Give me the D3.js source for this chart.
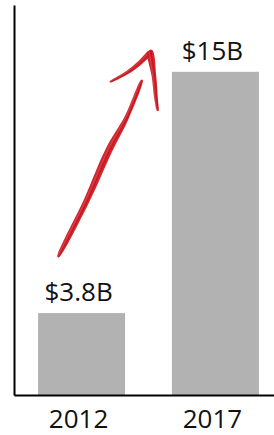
<!DOCTYPE html>
<html>
<head>
<meta charset="utf-8">
<script src="https://cdn.jsdelivr.net/npm/d3@7"></script>
<style>
  html, body { margin: 0; padding: 0; background: #fff; }
  svg { display: block; }
  text { font-family: "Open Sans", "Liberation Sans", sans-serif; fill: #111; }
</style>
</head>
<body>
<svg id="chart" width="274" height="435"></svg>
<script>
// ---- data ----
const categories = ["2012", "2017"];
const values = [3.8, 15];
const valueLabels = ["$3.8B", "$15B"];
// hand-drawn arrow annotation, in data units:
// f = position between the two category centers (0 = 2012, 1 = 2017), v = value units
const arrowStem = [
  { f: -0.176, v: 6.40, w: 1.5 },
  { f: 0.040, v: 9.05, w: 6 },
  { f: 0.205, v: 11.37, w: 7 },
  { f: 0.339, v: 12.90, w: 4.5 },
  { f: 0.451, v: 14.62, w: 1.5 }
];
const arrowLeftWing = [
  { f: 0.212, v: 14.53, w: 1.2 },
  { f: 0.337, v: 14.95, w: 3.5 },
  { f: 0.434, v: 15.41, w: 4.5 },
  { f: 0.508, v: 15.87, w: 5 },
  { f: 0.526, v: 15.99, w: 3 }
];
const arrowRightWing = [
  { f: 0.512, v: 15.95, w: 5 },
  { f: 0.541, v: 14.79, w: 4.5 },
  { f: 0.557, v: 13.73, w: 3.5 },
  { f: 0.569, v: 13.19, w: 1.2 }
];

// ---- scales ----
const svg = d3.select("#chart");
const x = d3.scaleBand().domain(categories).range([14, 283]).paddingInner(0.35).paddingOuter(0.18);
const y = d3.scaleLinear().domain([0, 18.1]).range([395, 5]);
const c0 = x(categories[0]) + x.bandwidth() / 2;
const c1 = x(categories[1]) + x.bandwidth() / 2;
const fx = d3.scaleLinear().domain([0, 1]).range([c0, c1]);

// ---- bars ----
svg.append("g").selectAll("rect").data(values).join("rect")
  .attr("x", (d, i) => x(categories[i]))
  .attr("y", d => y(d))
  .attr("width", x.bandwidth())
  .attr("height", d => y(0) - y(d))
  .attr("fill", "#b2b2b2");

// ---- value labels ----
svg.append("g").selectAll("text").data(values).join("text")
  .attr("x", (d, i) => x(categories[i]) + x.bandwidth() / 2 - 3)
  .attr("y", d => y(d) - 12)
  .attr("text-anchor", "middle")
  .style("font-size", "26px")
  .text((d, i) => valueLabels[i]);

// ---- axes ----
const xAxis = svg.append("g").attr("transform", `translate(0,${y(0)})`)
  .call(d3.axisBottom(x).tickSize(0).tickPadding(15));
xAxis.select(".domain").attr("stroke", "#000").attr("stroke-width", 2);
xAxis.selectAll(".tick text")
  .attr("font-family", null)
  .attr("dx", -3)
  .style("font-size", "26px")
  .style("fill", "#111");

const yAxis = svg.append("g").attr("transform", `translate(14,0)`)
  .call(d3.axisLeft(y).ticks(0).tickSize(0).tickSizeOuter(0));
yAxis.select(".domain").attr("stroke", "#000").attr("stroke-width", 2);
yAxis.selectAll(".tick").remove();

// ---- arrow (brush strokes) ----
function brushPath(pts) {
  const P = pts.map(p => [fx(p.f), y(p.v), p.w]);
  const left = [], right = [];
  for (let i = 0; i < P.length; i++) {
    const a = P[Math.max(0, i - 1)], b = P[Math.min(P.length - 1, i + 1)];
    let dx = b[0] - a[0], dy = b[1] - a[1];
    const len = Math.hypot(dx, dy) || 1;
    const nx = -dy / len, ny = dx / len;
    left.push([P[i][0] + nx * P[i][2] / 2, P[i][1] + ny * P[i][2] / 2]);
    right.push([P[i][0] - nx * P[i][2] / 2, P[i][1] - ny * P[i][2] / 2]);
  }
  return d3.line().curve(d3.curveCatmullRomClosed)(left.concat(right.reverse()));
}
function centerPath(pts, off) {
  return d3.line().curve(d3.curveCatmullRom)(pts.map(p => [fx(p.f) + off, y(p.v)]));
}
const arrow = svg.append("g");
[arrowStem, arrowLeftWing, arrowRightWing].forEach(s => {
  arrow.append("path").attr("d", brushPath(s)).attr("fill", "#cf1b24").attr("opacity", 0.95);
  arrow.append("path").attr("d", centerPath(s, 0.8)).attr("fill", "none")
    .attr("stroke", "#b80d16").attr("stroke-width", 1).attr("opacity", 0.7);
  arrow.append("path").attr("d", centerPath(s, -1.2)).attr("fill", "none")
    .attr("stroke", "#e8707a").attr("stroke-width", 0.6).attr("opacity", 0.6);
});
</script>
</body>
</html>
